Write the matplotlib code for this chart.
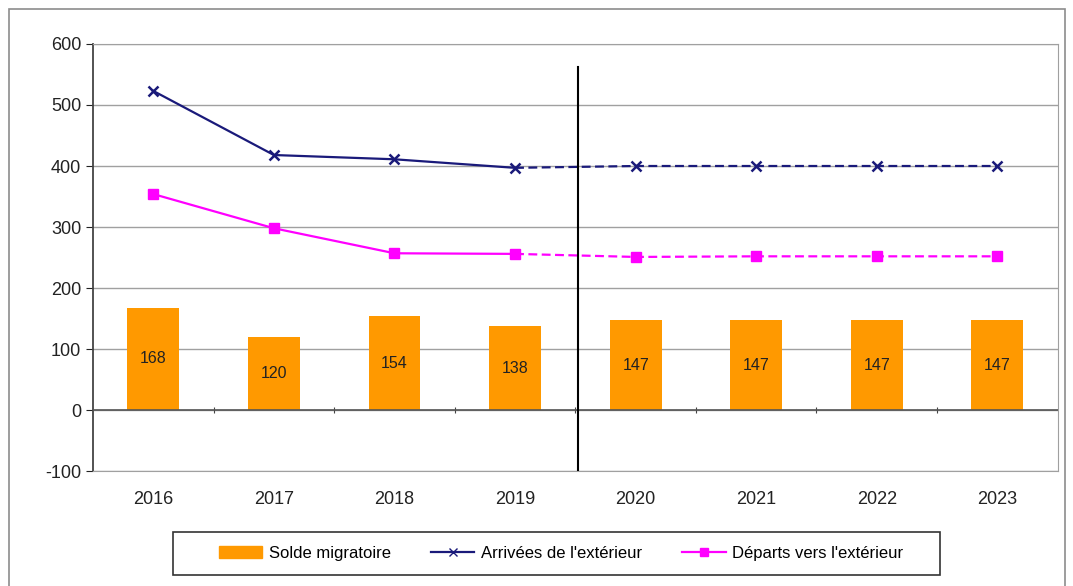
import numpy as np
import matplotlib.pyplot as plt
from matplotlib.patches import Rectangle

plt.rcParams['font.family'] = ['Liberation Sans', 'DejaVu Sans']
plt.rcParams['axes.unicode_minus'] = False

# Data
years = ['2016', '2017', '2018', '2019', '2020', '2021', '2022', '2023']
solde = [168, 120, 154, 138, 147, 147, 147, 147]
arrivees = [523, 418, 411, 397, 400, 400, 400, 400]
departs = [354, 298, 257, 256, 251, 252, 252, 252]
n_observed = 4  # 2016-2019 observed, then projections

x = np.arange(len(years))

fig = plt.figure(figsize=(10.73, 5.86), dpi=100)
ax = fig.add_axes([0.0867, 0.196, 0.899, 0.729])

# outer frame
fig.patches.append(Rectangle((0.008, -0.01), 0.985, 0.995, transform=fig.transFigure,
                             fill=False, edgecolor='#8c8c8c', lw=1.2))
# legend frame
fig.patches.append(Rectangle((173 / 1073, 11 / 586), 767 / 1073, 43 / 586, transform=fig.transFigure,
                             fill=False, edgecolor='#333333', lw=1.2))

for v in range(-100, 601, 100):
    ax.axhline(v, color='#a0a0a0', lw=1, zorder=0)

bars = ax.bar(x, solde, width=0.43, color='#FF9900', label='Solde migratoire', zorder=2)
for xi, v in zip(x, solde):
    ax.text(xi, v / 2, str(v), ha='center', va='center', fontsize=11.5, color='#222222', zorder=3)

obs = slice(0, n_observed)
proj = slice(n_observed - 1, len(years))
ax.plot(x[obs], arrivees[:n_observed], color='#1a1a7a', lw=1.6, zorder=4)
ax.plot(x[proj], arrivees[n_observed - 1:], color='#1a1a7a', lw=1.6, ls=(0, (4, 2)), zorder=4)
ax.plot(x, arrivees, ls='none', marker='x', ms=7, mew=1.8, color='#1a1a7a', zorder=5)
ax.plot(x[obs], departs[:n_observed], color='#ff00ff', lw=1.6, zorder=4)
ax.plot(x[proj], departs[n_observed - 1:], color='#ff00ff', lw=1.6, ls=(0, (4, 2)), zorder=4)
ax.plot(x, departs, ls='none', marker='s', ms=7.5, color='#ff00ff', zorder=5)

# separation observed / projected
ax.plot([n_observed - 0.48, n_observed - 0.48], [-100, 562], color='black', lw=1.5, zorder=6)

ax.axhline(0, color='#555555', lw=1.2, zorder=3)
ax.set_xlim(-0.5, len(years) - 0.5)
ax.set_ylim(-100, 600)
ax.set_yticks(range(-100, 601, 100))
ax.set_xticks(x)
ax.set_xticklabels(years)
ax.tick_params(axis='x', length=0, labelsize=13, pad=14, colors='#222222')
ax.tick_params(axis='y', length=5, labelsize=13, colors='#222222', direction='out')
for side in ['top', 'right']:
    ax.spines[side].set_color('#a0a0a0')
ax.spines['bottom'].set_color('#a0a0a0')
ax.spines['left'].set_color('#444444')
ax.spines['left'].set_linewidth(1.3)

# ticks between categories on the zero line
sec = ax.secondary_xaxis(1 / 7)
sec.set_xticks(np.arange(0.5, len(years) - 1, 1))
sec.set_xticklabels([])
sec.tick_params(length=5, direction='inout', color='#444444')
sec.spines['bottom'].set_visible(False)
sec.spines['top'].set_visible(False)

h_bar = plt.Rectangle((0, 0), 1, 1, color='#FF9900')
h_arr, = ax.plot([], [], color='#1a1a7a', marker='x', ms=6, lw=1.6)
h_dep, = ax.plot([], [], color='#ff00ff', marker='s', ms=6, lw=1.6)
leg = fig.legend([h_bar, h_arr, h_dep],
                 ['Solde migratoire', "Arrivées de l'extérieur", "Départs vers l'extérieur"],
                 loc='center', bbox_to_anchor=(0.523, 0.056), ncol=3, fontsize=12,
                 frameon=False, columnspacing=2.4, handletextpad=0.4,
                 handlelength=2.6, handleheight=0.8)

fig.savefig('out.png', dpi=100)
